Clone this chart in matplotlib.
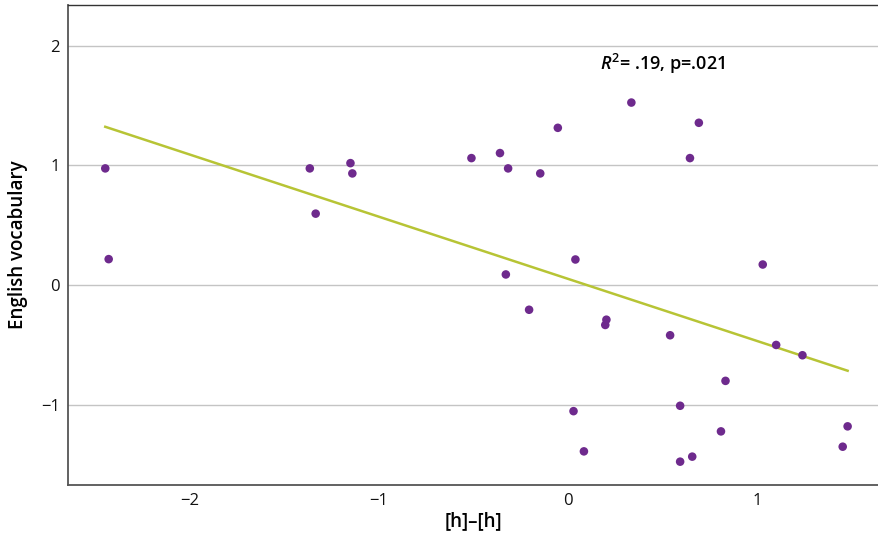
import numpy as np
import matplotlib
matplotlib.use("Agg")
import matplotlib.pyplot as plt

# ----------------------------
# Data
# ----------------------------
h_diff = [-2.448, -2.430, -1.366, -1.335, -1.151, -1.141, -0.511, -0.360,
          -0.317, -0.329, -0.206, -0.147, -0.054, 0.039, 0.029, 0.084,
          0.203, 0.197, 0.335, 0.540, 0.645, 0.692, 0.593, 0.593,
          0.657, 0.833, 0.809, 1.030, 1.101, 1.240, 1.479, 1.453]
vocab = [0.975, 0.217, 0.975, 0.597, 1.019, 0.933, 1.061, 1.103,
         0.975, 0.089, -0.206, 0.933, 1.314, 0.214, -1.053, -1.389,
         -0.289, -0.333, 1.525, -0.419, 1.061, 1.356, -1.008, -1.475,
         -1.433, -0.800, -1.222, 0.172, -0.500, -0.586, -1.180, -1.350]
x_ticks = [-2, -1, 0, 1]
y_ticks = [-1, 0, 1, 2]
stat_label = r"$\mathit{R}^{\mathrm{2}}$= .19, p=.021"

plt.rcParams['font.family'] = ['Open Sans', 'DejaVu Sans']
plt.rcParams['axes.unicode_minus'] = True
plt.rcParams['mathtext.fontset'] = 'custom'
plt.rcParams['mathtext.rm'] = 'Open Sans:semibold'
plt.rcParams['mathtext.it'] = 'Open Sans:italic:semibold'

fig = plt.figure(figsize=(8.79, 5.38), dpi=100)
ax = fig.add_axes([0.0774, 0.0985, 0.9226, 0.8922])

x = np.array(h_diff)
y = np.array(vocab)

# fit line over the data range
slope, intercept = np.polyfit(x, y, 1)
xs = np.array([x.min(), x.max()])
ax.plot(xs, slope * xs + intercept, color="#B7C435", lw=1.8, zorder=2)

ax.scatter(x, y, s=38, color="#6E2A8D", edgecolors="none", zorder=3)

ax.set_xlim(-2.645, 1.645)
ax.set_ylim(-1.67, 2.34)
ax.set_xticks(x_ticks)
ax.set_yticks(y_ticks)
ax.tick_params(length=0, labelsize=12, pad=6, colors="#111111")
ax.yaxis.grid(True, color="#C4C4C4", lw=1)
ax.set_axisbelow(True)

for side in ["left", "bottom"]:
    ax.spines[side].set_color("#555555")
    ax.spines[side].set_linewidth(1.3)
ax.spines["top"].set_color("#333333")
ax.spines["top"].set_linewidth(1.0)
ax.spines["right"].set_visible(False)

ax.set_xlabel("[h]–[h]", fontsize=13.5, fontweight="semibold", labelpad=1)
ax.set_ylabel("English vocabulary", fontsize=13.5, fontweight="semibold", labelpad=9)

ax.text(0.17, 1.845, stat_label, fontsize=13, fontweight="semibold",
        ha="left", va="center")

fig.savefig("out.png", dpi=100)
